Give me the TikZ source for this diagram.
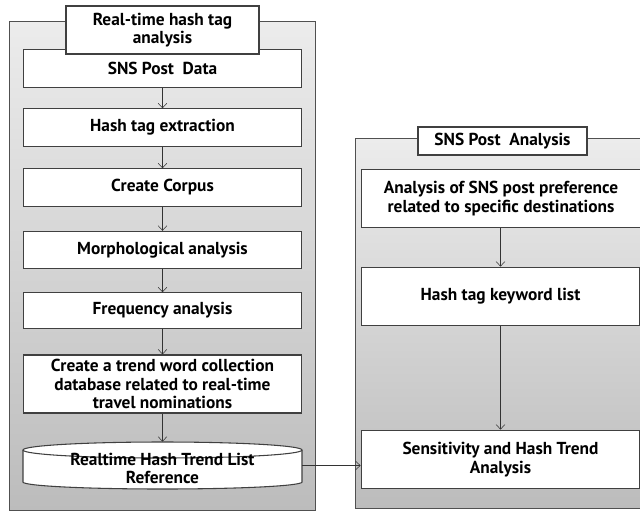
\documentclass[tikz,border=0pt]{standalone}
\usepackage{fontspec}
\setmainfont{PT Sans}
\usepackage{tikz}
\usetikzlibrary{arrows.meta}

\definecolor{panelline}{RGB}{80,80,80}
\definecolor{boxline}{RGB}{64,64,64}
\definecolor{paneltop}{RGB}{236,236,236}
\definecolor{panelbottom}{RGB}{188,188,188}

\begin{document}
\begin{tikzpicture}[x=0.75pt,y=0.75pt,yscale=-1,xscale=1,
    every node/.style={font=\bfseries\fontsize{13}{14}\selectfont,align=center,inner sep=0.75pt},
    panel/.style={draw=panelline,top color=paneltop,bottom color=panelbottom,anchor=north west,minimum width=229.5pt},
    titlebox/.style={draw=boxline,fill=white,line width=0.8pt},
    stepbox/.style={draw=boxline,fill=white,line width=0.8pt,minimum width=209pt,minimum height=28pt},
    flow/.style={draw={rgb,255:red,51;green,51;blue,51},-{Straight Barb[length=3.5pt,width=6.5pt]}}]
    \useasboundingbox (0,0) rectangle (640,512);

    %Panels
    \draw (9,21) node [panel,minimum height=366.75pt] (leftpanel) {};
    \draw (355,138) node [panel,minimum height=277.5pt,minimum width=225pt] (rightpanel) {};

    %Left column: real-time hash tag analysis
    \draw (162.5,68.5) node [stepbox] (snsdata) {SNS Post\ \ Data};
    \draw (162.5,127.5) node [stepbox] (extract) {Hash tag extraction};
    \draw (162.5,187.5) node [stepbox] (corpus) {Create Corpus};
    \draw (162.5,250) node [stepbox] (morph) {Morphological analysis};
    \draw (162.5,310.5) node [stepbox,minimum height=26.5pt] (freq) {Frequency analysis};
    \draw (162.5,384) node [stepbox,minimum height=43.5pt] (trenddb) {Create a trend word collection\\database related to real-time\\travel nominations};
    %Shape: Can
    \draw [draw=boxline,fill=white,line width=0.8pt] (23,450) -- (23,482) arc [start angle=180,end angle=0,x radius=139.5,y radius=7] -- (302,450) arc [start angle=0,end angle=-180,x radius=139.5,y radius=8] -- cycle;
    \draw [draw=boxline,line width=0.8pt] (23,450) arc [start angle=180,end angle=0,x radius=139.5,y radius=8];
    \draw (162.5,465.5) node [minimum width=209pt,minimum height=35.25pt] (trendlist) {\raisebox{-4pt}[\height][\depth]{\begin{tabular}{@{}c@{}}Realtime Hash Trend List\\Reference\end{tabular}}};
    \draw (162.5,30) node [titlebox,minimum width=144.75pt,minimum height=36pt] (lefttitle) {Real-time hash tag\\analysis};

    %Right column: SNS post analysis
    \draw (501,198.5) node [stepbox,minimum height=44pt] (preference) {Analysis of SNS post preference\\related to specific destinations};
    \draw (500.5,296.5) node [stepbox,minimum height=44pt] (keywords) {Hash tag keyword list};
    \draw (500.5,459.5) node [stepbox,minimum height=44pt] (sensitivity) {Sensitivity and Hash Trend\\Analysis};
    \draw (502.5,141) node [titlebox,minimum width=126.75pt,minimum height=21pt] (righttitle) {SNS Post\ \ Analysis};

    %Connectors
    \draw [flow] (snsdata) -- (extract);
    \draw [flow] (extract) -- (corpus);
    \draw [flow] (corpus) -- (morph);
    \draw [flow] (morph) -- (freq);
    \draw [flow] (freq) -- (trenddb);
    \draw [flow] (trenddb) -- (trendlist);
    \draw [flow] (preference.south -| keywords.north) -- (keywords.north);
    \draw [flow] (keywords) -- (sensitivity);
    \draw [flow] (trendlist.east) -- (trendlist.east -| sensitivity.west);

\end{tikzpicture}
\end{document}
